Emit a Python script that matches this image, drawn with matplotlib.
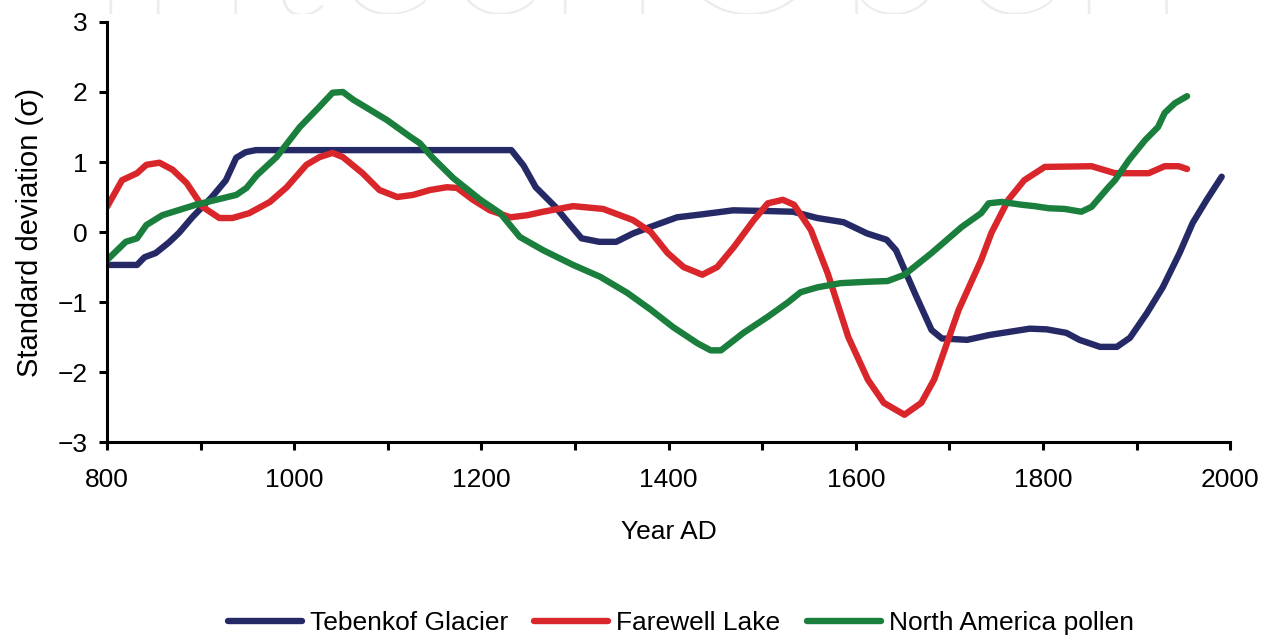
import matplotlib
matplotlib.use('Agg')
import matplotlib.pyplot as plt
from matplotlib.transforms import Bbox, TransformedBbox

plt.rcParams['font.family'] = ['Liberation Sans', 'DejaVu Sans']

# Tebenkof Glacier
teb_years = [800, 832, 840, 852, 866, 877, 891, 912, 927, 938, 948, 959, 1232, 1245, 1258,
             1279, 1295, 1307, 1326, 1344, 1362, 1380, 1409, 1434, 1469, 1505, 1533, 1559,
             1587, 1612, 1633, 1643, 1664, 1681, 1692, 1719, 1743, 1786, 1804, 1825, 1839,
             1861, 1879, 1893, 1911, 1928, 1946, 1960, 1975, 1991]
teb_vals = [-0.47, -0.47, -0.36, -0.3, -0.15, -0.01, 0.21, 0.5, 0.74, 1.06, 1.14, 1.17, 1.17,
            0.95, 0.64, 0.36, 0.1, -0.09, -0.14, -0.14, -0.02, 0.07, 0.21, 0.25, 0.31, 0.3,
            0.29, 0.2, 0.14, -0.02, -0.11, -0.26, -0.9, -1.4, -1.52, -1.54, -1.47, -1.38,
            -1.39, -1.44, -1.54, -1.64, -1.64, -1.51, -1.16, -0.79, -0.3, 0.13, 0.46, 0.79]

# Farewell Lake
fl_years = [800, 816, 832, 842, 856, 870, 885, 902, 920, 934, 952, 974, 992, 1013, 1027, 1041,
            1052, 1073, 1091, 1110, 1127, 1145, 1163, 1174, 1191, 1209, 1231, 1249, 1266, 1298,
            1330, 1362, 1381, 1399, 1416, 1436, 1452, 1470, 1491, 1506, 1522, 1534, 1552, 1570,
            1592, 1613, 1630, 1652, 1670, 1684, 1710, 1734, 1745, 1763, 1780, 1802, 1852, 1877,
            1913, 1930, 1945, 1954]
fl_vals = [0.36, 0.74, 0.84, 0.96, 0.99, 0.89, 0.7, 0.36, 0.2, 0.2, 0.27, 0.43, 0.64, 0.96, 1.07,
           1.13, 1.07, 0.84, 0.6, 0.5, 0.53, 0.6, 0.64, 0.63, 0.46, 0.31, 0.21, 0.24, 0.29, 0.37,
           0.33, 0.17, 0, -0.3, -0.5, -0.61, -0.5, -0.21, 0.17, 0.41, 0.46, 0.39, 0.03, -0.59,
           -1.5, -2.11, -2.44, -2.61, -2.44, -2.1, -1.11, -0.4, -0.01, 0.46, 0.74, 0.93, 0.94,
           0.84, 0.84, 0.94, 0.94, 0.9]

# North America pollen
na_years = [800, 820, 832, 842, 859, 895, 938, 949, 960, 981, 1006, 1027, 1041, 1052, 1063, 1073,
            1099, 1124, 1134, 1148, 1170, 1199, 1220, 1241, 1266, 1298, 1327, 1356, 1381, 1405,
            1431, 1445, 1456, 1480, 1506, 1527, 1541, 1559, 1584, 1613, 1634, 1652, 1681, 1713,
            1734, 1742, 1756, 1777, 1791, 1806, 1823, 1841, 1852, 1870, 1877, 1892, 1909, 1923,
            1930, 1941, 1954]
na_vals = [-0.4, -0.14, -0.09, 0.1, 0.24, 0.39, 0.53, 0.63, 0.81, 1.07, 1.5, 1.79, 1.99, 2.0, 1.89,
           1.81, 1.6, 1.36, 1.27, 1.06, 0.77, 0.46, 0.27, -0.07, -0.26, -0.47, -0.64, -0.87, -1.11,
           -1.36, -1.59, -1.69, -1.69, -1.44, -1.21, -1.01, -0.86, -0.79, -0.73, -0.71, -0.7,
           -0.61, -0.3, 0.07, 0.27, 0.41, 0.43, 0.39, 0.37, 0.34, 0.33, 0.29, 0.36, 0.64, 0.74,
           1.03, 1.31, 1.5, 1.7, 1.84, 1.94]

labels = ['Tebenkof Glacier', 'Farewell Lake', 'North America pollen']
colors = ['#252a66', '#d9262b', '#1a7e3c']

fig = plt.figure(figsize=(12.7, 6.37), dpi=100)
ax = fig.add_axes([0.0843, 0.306, 0.8843, 0.6595])

# faint watermark, only its lower edge shows at the top of the picture
wm = fig.text(0.5, 1 - 14 / 637, 'IntechOpen', ha='center', va='baseline', fontsize=158,
              color='#ececec', family=['Lato', 'Open Sans', 'DejaVu Sans'], fontweight=100,
              zorder=0)
wm.set_clip_box(TransformedBbox(Bbox([[0, 1 - 14 / 637], [1, 1]]), fig.transFigure))
wm.set_clip_on(True)

lw = 4.6
ax.plot(teb_years, teb_vals, color=colors[0], lw=lw, label=labels[0], solid_capstyle='round')
ax.plot(fl_years, fl_vals, color=colors[1], lw=lw, label=labels[1], solid_capstyle='round')
ax.plot(na_years, na_vals, color=colors[2], lw=lw, label=labels[2], solid_capstyle='round')

ax.set_xlim(800, 2000)
ax.set_ylim(-3, 3)
ax.set_xticks(range(800, 2001, 200))
ax.set_xticks(range(800, 2001, 100), minor=True)
ax.set_yticks(range(-3, 4))
ax.set_yticklabels(['\u22123', '\u22122', '\u22121', '0', '1', '2', '3'])

for s in ['top', 'right']:
    ax.spines[s].set_visible(False)
for s in ['left', 'bottom']:
    ax.spines[s].set_linewidth(2.2)

ax.tick_params(axis='both', which='both', direction='out', length=6, width=2.2, labelsize=19)
ax.tick_params(axis='x', which='major', pad=13)
ax.tick_params(axis='y', pad=8)

ax.set_xlabel('Year AD', fontsize=19, labelpad=20)
ax.set_ylabel('Standard deviation (\u03c3)', fontsize=21, labelpad=10)

fig.legend(loc='center', bbox_to_anchor=(0.536, 0.022), ncol=3, frameon=False,
           fontsize=19, handlelength=2.8, handletextpad=0.3, columnspacing=1.0)

fig.savefig('out.png', dpi=100)
